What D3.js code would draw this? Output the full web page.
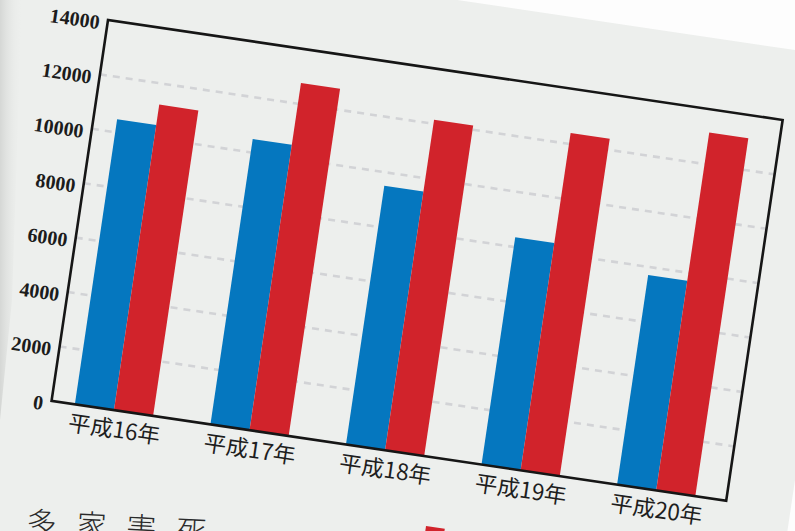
<!DOCTYPE html>
<html>
<head>
<meta charset="utf-8">
<script src="https://cdn.jsdelivr.net/npm/d3@7/dist/d3.min.js"></script>
<style>
  body { margin: 0; background: #fdfdfd; }
  svg { display: block; }
  .ylab text { font-family: "Liberation Serif", "DejaVu Serif", serif; font-weight: bold; font-size: 20px; }
</style>
</head>
<body>
<svg id="chart" width="795" height="531"></svg>
<script>
// values
const categories = ["平成16年", "平成17年", "平成18年", "平成19年", "平成20年"];
const seriesNames = ["blue", "red"];
const blueValues = [10480, 10490, 9510, 8360, 7710];
const redValues = [11230, 12760, 12150, 12400, 13160];
const yTicks = [0, 2000, 4000, 6000, 8000, 10000, 12000, 14000];
const gridTicks = [2000, 4000, 6000, 8000, 10000, 12000];
const bottomText = "多家害死";

const colors = { blue: "#0577bf", red: "#d1232b" };

const width = 682, height = 385;
const angle = 8.43; // photo is tilted

const svg = d3.select("#chart");

// soft shadow on the left of the page
const defs = svg.append("defs");
const grad = defs.append("linearGradient").attr("id", "shade")
    .attr("x1", "0%").attr("x2", "100%");
grad.append("stop").attr("offset", "0%").attr("stop-color", "#cfd1cf");
grad.append("stop").attr("offset", "100%").attr("stop-color", "#eceeec").attr("stop-opacity", 0);

const page = svg.append("g")
    .attr("transform", `translate(108,20) rotate(${angle})`);

// paper
page.append("rect")
    .attr("x", -300).attr("y", -71)
    .attr("width", 1047).attr("height", 900)
    .attr("fill", "#edefed");

svg.append("polygon")
    .attr("points", "0,0 22,0 12,300 0,420")
    .attr("fill", "url(#shade)")
    .attr("opacity", 0.8);

let x0 = d3.scaleBand()
    .domain(categories)
    .range([0, width])
    .paddingInner(0.423)
    .paddingOuter(0.2)
    .align(0.43);

let x1 = d3.scaleBand()
    .domain(seriesNames)
    .range([0, x0.bandwidth()])
    .padding(0);

let y = d3.scaleLinear()
    .domain([0, 14000])
    .range([height, 0]);

// dashed grid
page.append("g")
    .selectAll("line")
    .data(gridTicks)
    .join("line")
    .attr("x1", 0)
    .attr("x2", width)
    .attr("y1", d => y(d))
    .attr("y2", d => y(d))
    .attr("stroke", "#d2d3d6")
    .attr("stroke-width", 2.6)
    .attr("stroke-dasharray", "7,6");

// bars
const rows = categories.map((c, i) => ({ cat: c, blue: blueValues[i], red: redValues[i] }));

page.append("g")
    .selectAll("g")
    .data(rows)
    .join("g")
    .attr("transform", d => `translate(${x0(d.cat)},0)`)
    .selectAll("rect")
    .data(d => seriesNames.map(k => ({ key: k, value: d[k] })))
    .join("rect")
    .attr("x", d => x1(d.key))
    .attr("width", x1.bandwidth())
    .attr("y", d => y(d.value))
    .attr("height", d => y(0) - y(d.value))
    .attr("fill", d => colors[d.key]);

// frame
page.append("rect")
    .attr("x", 0).attr("y", 0)
    .attr("width", width).attr("height", height)
    .attr("fill", "none")
    .attr("stroke", "#161616")
    .attr("stroke-width", 2.6);

// y labels
const yAxis = page.append("g")
    .attr("class", "ylab")
    .call(d3.axisLeft(y).tickValues(yTicks).tickSize(0).tickPadding(8).tickFormat(d3.format("d")))
    .attr("font-family", null)
    .attr("font-size", null);
yAxis.select(".domain").remove();
yAxis.selectAll("text")
    .attr("dy", "0.5em")
    .attr("fill", "#1c1c1c");

// x labels
page.append("g")
    .selectAll("text")
    .data(categories)
    .join("text")
    .attr("x", d => x0(d) + x0.bandwidth() / 2 + 3)
    .attr("y", height + 17)
    .attr("text-anchor", "middle")
    .attr("dominant-baseline", "central")
    .attr("fill", "#1e1e1e")
    .style("font-family", "'Noto Sans CJK JP', 'Noto Sans', sans-serif")
    .style("font-weight", 400)
    .style("font-size", "22.5px")
    .text(d => d);

// text of the page below the chart (cut off by the photo)
svg.append("text")
    .attr("transform", "translate(26,533) rotate(3)")
    .attr("fill", "#2a2a2a")
    .style("font-family", "'Noto Sans CJK JP', sans-serif")
    .style("font-weight", 300)
    .style("font-size", "30px")
    .style("letter-spacing", "20px")
    .text(bottomText);

svg.append("rect")
    .attr("transform", "translate(426,526) rotate(8)")
    .attr("width", 19).attr("height", 14)
    .attr("fill", colors.red);
</script>
</body>
</html>
